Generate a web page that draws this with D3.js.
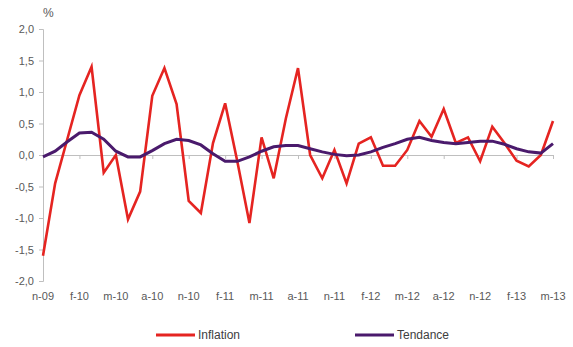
<!DOCTYPE html>
<html>
<head>
<meta charset="utf-8">
<script src="https://cdn.jsdelivr.net/npm/d3@7"></script>
<style>
  body { margin: 0; background: #fff; }
  svg { font-family: "Liberation Sans", Arial, sans-serif; }
</style>
</head>
<body>
<div id="chart"></div>
<script>
// monthly, nov 2009 .. may 2013
const months = d3.range(43)
const tickLabels = ['n-09', 'f-10', 'm-10', 'a-10', 'n-10', 'f-11', 'm-11', 'a-11', 'n-11', 'f-12', 'm-12', 'a-12', 'n-12', 'f-13', 'm-13']
const inflation = [
  -1.6, -0.45, 0.25, 0.95, 1.4, -0.28, 0.0, -1.02, -0.58, 0.94, 1.38, 0.81,
  -0.73, -0.92, 0.19, 0.82, -0.1, -1.08, 0.28, -0.37, 0.58, 1.38, 0.0, -0.37,
  0.08, -0.45, 0.18, 0.28, -0.17, -0.17, 0.08, 0.54, 0.29, 0.73, 0.19, 0.28,
  -0.1, 0.45, 0.19, -0.09, -0.18, 0.0, 0.54
]
const tendance = [
  -0.03, 0.06, 0.21, 0.35, 0.36, 0.25, 0.06, -0.03, -0.03, 0.07, 0.18, 0.25,
  0.23, 0.16, 0.02, -0.1, -0.1, -0.03, 0.06, 0.13, 0.15, 0.15, 0.1, 0.05,
  0.01, -0.01, 0.0, 0.05, 0.12, 0.18, 0.25, 0.28, 0.23, 0.2, 0.18, 0.2,
  0.22, 0.22, 0.17, 0.1, 0.05, 0.03, 0.18
]
const yTicks = [-2, -1.5, -1, -0.5, 0, 0.5, 1, 1.5, 2]

const width = 573
const height = 347
const margin = { left: 43, right: 20, top: 29, bottom: 66 }

const svg = d3.select('#chart')
  .append('svg')
  .attr('width', width)
  .attr('height', height)

const x = d3.scaleLinear()
  .domain([0, months.length - 1])
  .range([margin.left, width - margin.right])
const y = d3.scaleLinear()
  .domain([-2, 2])
  .range([height - margin.bottom, margin.top])

const fmt = d => d3.format('.1f')(d).replace('.', ',').replace('−', '-')

// y axis
const yAxis = d3.axisLeft(y).tickValues(yTicks).tickFormat(fmt).tickSize(4).tickPadding(5)
const gy = svg.append('g')
  .attr('transform', `translate(${margin.left},0)`)
  .call(yAxis)
gy.select('.domain').attr('stroke', '#bfbfbf')
gy.selectAll('.tick line').attr('stroke', '#bfbfbf')
gy.selectAll('.tick text').attr('fill', '#595959').style('font-size', '11px')

// zero line with month ticks
const gx = svg.append('g')
  .attr('transform', `translate(0,${y(0)})`)
  .call(d3.axisBottom(x).tickValues(d3.range(0, 43, 3)).tickSize(4).tickFormat(''))
gx.select('.domain').attr('stroke', '#bfbfbf')
gx.selectAll('.tick line').attr('stroke', '#bfbfbf')

// labels at the bottom
svg.append('g')
  .selectAll('text')
  .data(tickLabels)
  .join('text')
  .attr('x', (d, i) => x(i * 3))
  .attr('y', height - margin.bottom + 19)
  .attr('text-anchor', 'middle')
  .attr('fill', '#595959')
  .style('font-size', '11px')
  .text(d => d)

svg.append('text')
  .attr('x', margin.left)
  .attr('y', 17)
  .attr('fill', '#595959')
  .style('font-size', '12px')
  .text('%')

const line = d3.line()
  .x((d, i) => x(i))
  .y(d => y(d))

svg.append('path')
  .datum(inflation)
  .attr('fill', 'none')
  .attr('stroke', '#e52421')
  .attr('stroke-width', 2.6)
  .attr('stroke-linejoin', 'miter')
  .attr('d', line)

svg.append('path')
  .datum(tendance)
  .attr('fill', 'none')
  .attr('stroke', '#4a1a6c')
  .attr('stroke-width', 3)
  .attr('d', line)

// legend
const legend = svg.append('g').attr('transform', `translate(0,${height - 12})`)
const items = [
  { name: 'Inflation', color: '#e52421', x: 156 },
  { name: 'Tendance', color: '#4a1a6c', x: 355 }
]
items.forEach(it => {
  legend.append('line')
    .attr('x1', it.x).attr('x2', it.x + 39)
    .attr('y1', 0).attr('y2', 0)
    .attr('stroke', it.color)
    .attr('stroke-width', 3)
  legend.append('text')
    .attr('x', it.x + 42)
    .attr('y', 4)
    .attr('fill', '#404040')
    .style('font-size', '12px')
    .text(it.name)
})
</script>
</body>
</html>
